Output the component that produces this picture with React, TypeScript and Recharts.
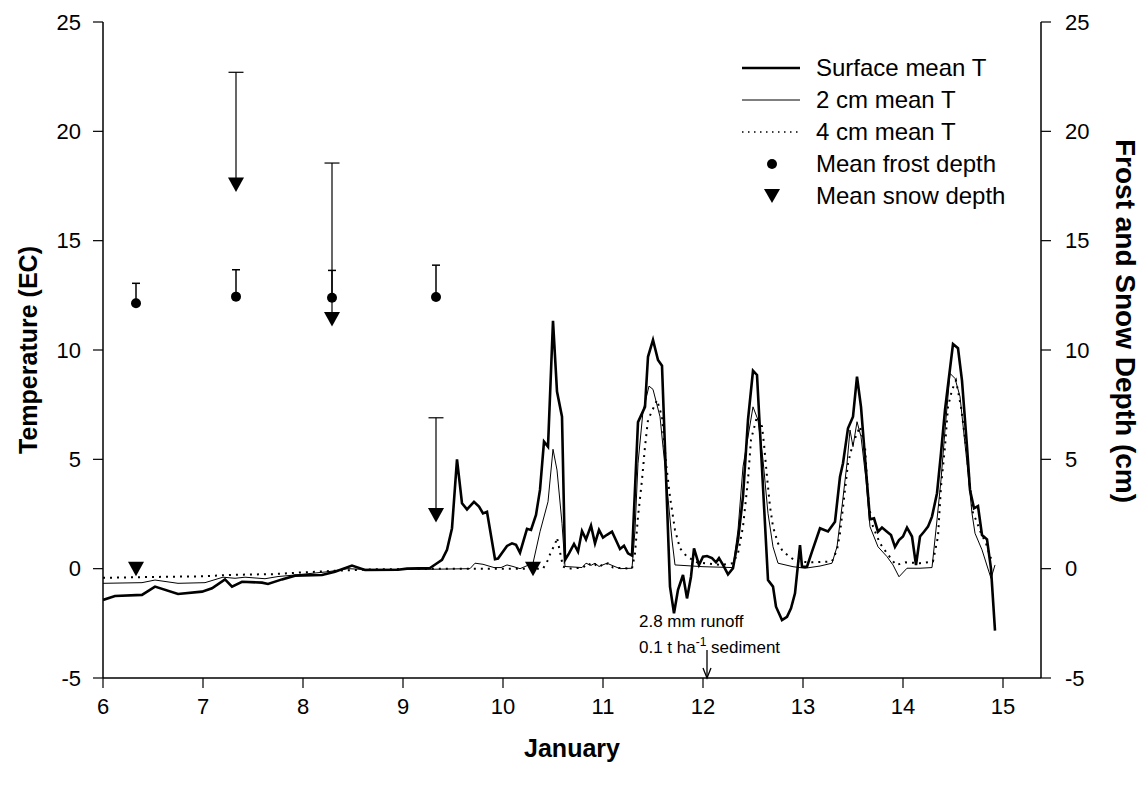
import React from 'react';
import { ComposedChart, Line, Scatter, ErrorBar, XAxis, YAxis, Legend, ReferenceDot } from 'recharts';

const FONT = '"Liberation Sans", Arial, Helvetica, sans-serif';

// [day of January, °C] at each vertex of the hourly traces
const surfaceTrace: [number, number][] = [
  [6.0, -1.43], [6.12, -1.25], [6.39, -1.2], [6.52, -0.82], [6.75, -1.16], [6.99, -1.05], [7.09, -0.9],
  [7.22, -0.49], [7.29, -0.82], [7.39, -0.6], [7.59, -0.64], [7.65, -0.7], [7.79, -0.49], [7.92, -0.32],
  [8.19, -0.29], [8.32, -0.14], [8.49, 0.14], [8.62, -0.06], [8.95, -0.05], [9.04, 0.0], [9.27, 0.03],
  [9.34, 0.25], [9.39, 0.4], [9.44, 0.86], [9.49, 1.85], [9.54, 5.0], [9.59, 2.99], [9.64, 2.71],
  [9.71, 3.06], [9.76, 2.84], [9.8, 2.53], [9.84, 2.6], [9.92, 0.43], [9.95, 0.46], [10.04, 1.04],
  [10.09, 1.16], [10.13, 1.09], [10.17, 0.73], [10.24, 1.82], [10.28, 1.77], [10.33, 2.46], [10.37, 3.6],
  [10.41, 5.81], [10.45, 5.58], [10.5, 11.34], [10.54, 8.1], [10.59, 6.95], [10.62, 0.4], [10.66, 0.7],
  [10.71, 1.13], [10.75, 0.78], [10.79, 1.72], [10.83, 1.34], [10.88, 1.97], [10.92, 1.16], [10.96, 1.77],
  [11.0, 1.42], [11.04, 1.55], [11.09, 1.69], [11.13, 1.3], [11.17, 0.9], [11.21, 1.05], [11.25, 0.7],
  [11.29, 0.6], [11.35, 6.7], [11.42, 7.4], [11.45, 9.69], [11.5, 10.46], [11.55, 9.54], [11.59, 9.28],
  [11.67, -0.82], [11.71, -2.04], [11.75, -0.97], [11.8, -0.29], [11.84, -1.36], [11.88, -0.37],
  [11.91, 0.93], [11.96, 0.17], [12.0, 0.55], [12.04, 0.58], [12.09, 0.48], [12.13, 0.29], [12.16, 0.48],
  [12.2, 0.17], [12.25, -0.26], [12.3, 0.02], [12.35, 1.31], [12.4, 3.29], [12.45, 6.8], [12.5, 9.05],
  [12.54, 8.86], [12.65, -0.52], [12.7, -0.82], [12.73, -1.74], [12.79, -2.35], [12.84, -2.2],
  [12.88, -1.81], [12.92, -1.13], [12.97, 1.08], [12.99, 0.09], [13.04, 0.09], [13.09, 0.78],
  [13.17, 1.85], [13.25, 1.7], [13.32, 2.15], [13.37, 4.2], [13.4, 4.82], [13.45, 6.42], [13.5, 6.95],
  [13.54, 8.78], [13.58, 7.4], [13.63, 4.51], [13.67, 2.26], [13.71, 2.3], [13.75, 1.69], [13.79, 1.88],
  [13.84, 1.69], [13.88, 1.54], [13.92, 1.0], [13.96, 1.31], [14.0, 1.47], [14.04, 1.88], [14.09, 1.47],
  [14.13, 0.17], [14.17, 1.47], [14.21, 1.69], [14.25, 1.92], [14.29, 2.38], [14.34, 3.45], [14.38, 5.28],
  [14.42, 7.26], [14.5, 10.27], [14.55, 10.08], [14.59, 8.6], [14.64, 5.58], [14.67, 3.6], [14.71, 2.76],
  [14.75, 2.86], [14.79, 1.54], [14.84, 1.34], [14.88, 0.0], [14.92, -2.83],
];

const twoCmTrace: [number, number][] = [
  [6.0, -0.67], [6.39, -0.64], [6.52, -0.52], [6.75, -0.67], [7.02, -0.64], [7.2, -0.39], [7.32, -0.44],
  [7.42, -0.39], [7.62, -0.46], [7.75, -0.36], [7.92, -0.29], [8.25, -0.14], [8.45, 0.0], [8.59, -0.03],
  [9.25, -0.03], [9.67, 0.0], [9.72, 0.25], [9.8, 0.2], [9.91, 0.05], [9.98, 0.05], [10.04, 0.17],
  [10.1, 0.1], [10.17, 0.0], [10.3, 0.25], [10.37, 1.69], [10.45, 3.06], [10.5, 5.46], [10.54, 4.51],
  [10.59, 2.07], [10.62, 0.1], [10.79, 0.05], [10.83, 0.25], [10.88, 0.15], [10.92, 0.25], [10.96, 0.1],
  [11.04, 0.25], [11.09, 0.15], [11.17, 0.0], [11.29, 0.02], [11.32, 1.77], [11.35, 4.82], [11.4, 7.2],
  [11.46, 8.35], [11.5, 8.2], [11.57, 6.95], [11.63, 4.2], [11.69, 1.31], [11.72, 0.17], [12.0, 0.09],
  [12.3, 0.05], [12.35, 1.77], [12.4, 4.66], [12.5, 7.4], [12.55, 6.8], [12.6, 4.97], [12.65, 2.53],
  [12.7, 1.0], [12.75, 0.25], [12.9, 0.09], [13.02, 0.02], [13.17, 0.12], [13.29, 0.25], [13.34, 1.0],
  [13.39, 2.84], [13.44, 4.82], [13.47, 6.34], [13.5, 5.58], [13.54, 6.72], [13.58, 6.04], [13.63, 4.06],
  [13.67, 1.92], [13.75, 1.0], [13.84, 0.55], [13.9, 0.17], [13.96, -0.37], [14.04, 0.02], [14.17, 0.02],
  [14.29, 0.05], [14.34, 2.23], [14.38, 4.06], [14.42, 6.34], [14.47, 8.93], [14.52, 8.7], [14.57, 7.87],
  [14.64, 4.82], [14.69, 2.53], [14.72, 1.62], [14.79, 0.86], [14.88, -0.44], [14.92, 0.17],
];

const fourCmTrace: [number, number][] = [
  [6.0, -0.42], [6.5, -0.38], [7.0, -0.35], [7.3, -0.28], [7.7, -0.25], [8.0, -0.17], [8.4, -0.08],
  [8.7, -0.03], [9.5, 0.0], [10.4, 0.0], [10.45, 0.4], [10.48, 0.78], [10.52, 1.1], [10.54, 1.42],
  [10.6, 0.1], [10.65, 0.0], [10.8, 0.05], [10.85, 0.25], [10.9, 0.1], [10.95, 0.25], [11.0, 0.1],
  [11.05, 0.25], [11.1, 0.05], [11.29, 0.0], [11.32, 0.7], [11.35, 2.38], [11.39, 4.06], [11.42, 5.58],
  [11.45, 6.8], [11.54, 7.71], [11.59, 6.95], [11.63, 4.82], [11.67, 3.29], [11.72, 1.77], [11.77, 0.93],
  [11.84, 0.55], [11.94, 0.29], [12.17, 0.17], [12.3, 0.25], [12.35, 0.7], [12.4, 1.92], [12.45, 4.06],
  [12.48, 5.9], [12.54, 6.95], [12.59, 6.5], [12.61, 5.7], [12.64, 4.2], [12.67, 2.84], [12.7, 1.92],
  [12.75, 1.16], [12.8, 0.78], [12.93, 0.33], [13.1, 0.29], [13.29, 0.33], [13.34, 0.86], [13.37, 1.62],
  [13.42, 3.6], [13.45, 4.82], [13.5, 5.74], [13.57, 6.5], [13.62, 5.58], [13.64, 4.06], [13.66, 2.84],
  [13.7, 1.92], [13.77, 1.16], [13.84, 0.7], [13.93, 0.17], [14.03, 0.29], [14.17, 0.25], [14.3, 0.33],
  [14.35, 1.47], [14.38, 3.75], [14.42, 5.58], [14.45, 7.4], [14.49, 8.17], [14.53, 8.6], [14.58, 7.4],
  [14.63, 5.6], [14.67, 3.75], [14.7, 2.53], [14.73, 2.23], [14.78, 1.62], [14.83, 1.16], [14.87, 0.55],
  [14.9, 0.33],
];

// field sampling days, depths in cm, one-sided error (cm)
const frostDays = [6.33, 7.33, 8.29, 9.33];
const frostDepth = [12.14, 12.44, 12.39, 12.42];
const frostErr = [0.91, 1.23, 1.25, 1.46];

const snowDays = [6.33, 7.33, 8.29, 9.33, 10.3];
const snowDepth = [0, 17.57, 11.42, 2.45, 0];
const snowErr = [0, 5.13, 7.13, 4.45, 0];

const dayTicks = [6, 7, 8, 9, 10, 11, 12, 13, 14, 15];
const valueTicks = [-5, 0, 5, 10, 15, 20, 25];
const legendLabels = ['Surface mean T', '2 cm mean T', '4 cm mean T', 'Mean frost depth', 'Mean snow depth'];

const runoffDay = 12.04;
const runoffLines = ['2.8 mm runoff', '0.1 t ha', '-1', ' sediment'];

const toRows = (trace: [number, number][]) => trace.map(([day, t]) => ({ day, t }));
const surfaceData = toRows(surfaceTrace);
const twoCmData = toRows(twoCmTrace);
const fourCmData = toRows(fourCmTrace);

const frostData = frostDays.map((day, i) => ({ day, depth: frostDepth[i], err: [0, frostErr[i]] }));
const snowData = snowDays.map((day, i) => ({ day, depth: snowDepth[i], err: [0, snowErr[i]] }));
const frostCaps = frostData.map((d, i) => ({ day: d.day, depth: d.depth + frostErr[i] }));
const snowCaps = snowData
  .map((d, i) => ({ day: d.day, depth: d.depth + snowErr[i], err: snowErr[i] }))
  .filter((d) => d.err > 0);

const tickStyle = { fill: '#000', fontSize: 22, fontFamily: FONT };
const axisLine = { stroke: '#000', strokeWidth: 1.5 };
const tickLine = { stroke: '#000', strokeWidth: 1.2 };
const titleStyle = { fontFamily: FONT, fontSize: 25, fontWeight: 700, fill: '#000' };

const Triangle = (props: any) => {
  const { cx, cy } = props;
  return <polygon points={`${cx - 8},${cy - 7} ${cx + 8},${cy - 7} ${cx},${cy + 7.5}`} fill="#000" />;
};

const Dot = (props: any) => <circle cx={props.cx} cy={props.cy} r={5} fill="#000" />;

const capShape = (half: number, w: number) => (props: any) =>
  <line x1={props.cx - half} x2={props.cx + half} y1={props.cy} y2={props.cy} stroke="#000" strokeWidth={w} />;

const leftTitle = ({ viewBox }: any) => {
  const cx = viewBox.x + 20;
  const cy = viewBox.y + viewBox.height / 2;
  return (
    <text x={cx} y={cy} transform={`rotate(-90 ${cx} ${cy})`} textAnchor="middle" dominantBaseline="central" style={titleStyle}>
      Temperature (EC)
    </text>
  );
};

// right title runs top-down, starting just under the 20 cm tick
const rightTitle = ({ viewBox }: any) => {
  const cx = viewBox.x + 84;
  const cy = viewBox.y + 117;
  return (
    <text x={cx} y={cy} transform={`rotate(90 ${cx} ${cy})`} textAnchor="start" dominantBaseline="central" style={{ ...titleStyle, fontSize: 28 }}>
      Frost and Snow Depth (cm)
    </text>
  );
};

const bottomTitle = ({ viewBox }: any) => (
  <text x={viewBox.x + viewBox.width / 2} y={viewBox.y + 70} textAnchor="middle" dominantBaseline="central" style={titleStyle}>
    January
  </text>
);

const runoffMarker = (props: any) => {
  const { cx, cy } = props;
  const txt = { fontFamily: FONT, fontSize: 17, fill: '#000' };
  return (
    <g>
      <line x1={cx} x2={cx} y1={cy - 28} y2={cy} stroke="#000" strokeWidth={1.3} />
      <polyline points={`${cx - 4},${cy - 10} ${cx},${cy} ${cx + 4},${cy - 10}`} fill="none" stroke="#000" strokeWidth={1.3} />
      <text x={cx - 68} y={cy - 51} style={txt}>{runoffLines[0]}</text>
      <text x={cx - 68} y={cy - 25} style={txt}>
        {runoffLines[1]}
        <tspan dy={-7} fontSize={12}>{runoffLines[2]}</tspan>
        <tspan dy={7}>{runoffLines[3]}</tspan>
      </text>
    </g>
  );
};

const legendSymbol = (i: number) => {
  if (i === 0) return <line x1={0} x2={58} y1={16} y2={16} stroke="#000" strokeWidth={2.5} />;
  if (i === 1) return <line x1={0} x2={58} y1={16} y2={16} stroke="#000" strokeWidth={1} />;
  if (i === 2) return <line x1={0} x2={58} y1={16} y2={16} stroke="#000" strokeWidth={1.5} strokeDasharray="1.5 4.5" />;
  if (i === 3) return <circle cx={30} cy={16} r={5} fill="#000" />;
  return <polygon points="22,9 38,9 30,23" fill="#000" />;
};

const LegendBox = () => (
  <div style={{ fontFamily: FONT, fontSize: 24, color: '#000', lineHeight: '32px' }}>
    {legendLabels.map((label, i) => (
      <div key={label} style={{ display: 'flex', alignItems: 'center', height: 32 }}>
        <svg width={60} height={32}>{legendSymbol(i)}</svg>
        <span style={{ marginLeft: 14, whiteSpace: 'nowrap' }}>{label}</span>
      </div>
    ))}
  </div>
);

export default function App() {
  return (
    <div style={{ width: 1140, height: 774, background: '#fff' }}>
      <ComposedChart width={1140} height={774} margin={{ top: 14, right: 0, bottom: 0, left: 0 }}>
        <XAxis
          dataKey="day"
          type="number"
          domain={[6, 15.38]}
          ticks={dayTicks}
          allowDataOverflow
          height={104}
          tickSize={10}
          tickMargin={10}
          tick={tickStyle}
          axisLine={axisLine}
          tickLine={tickLine}
          label={bottomTitle}
        />
        <XAxis
          xAxisId="top"
          orientation="top"
          type="number"
          domain={[6, 15.38]}
          height={0}
          tick={false}
          tickLine={false}
          axisLine={axisLine}
        />
        <YAxis
          yAxisId="temp"
          type="number"
          domain={[-5, 25]}
          ticks={valueTicks}
          allowDataOverflow
          width={95}
          tickSize={10}
          tickMargin={12}
          tick={tickStyle}
          axisLine={axisLine}
          tickLine={tickLine}
          label={leftTitle}
        />
        <YAxis
          yAxisId="depth"
          orientation="right"
          type="number"
          domain={[-5, 25]}
          ticks={valueTicks}
          allowDataOverflow
          width={107}
          tickSize={10}
          tickMargin={14}
          tick={tickStyle}
          axisLine={axisLine}
          tickLine={tickLine}
          label={rightTitle}
        />
        <Legend
          layout="horizontal"
          verticalAlign="middle"
          content={LegendBox}
          wrapperStyle={{ position: 'absolute', left: 734, top: 44, width: 330 }}
        />
        <Line data={fourCmData} yAxisId="temp" dataKey="t" type="linear" stroke="#000" strokeWidth={2} strokeDasharray="2 5" dot={false} activeDot={false} isAnimationActive={false} />
        <Line data={twoCmData} yAxisId="temp" dataKey="t" type="linear" stroke="#000" strokeWidth={1} dot={false} activeDot={false} isAnimationActive={false} />
        <Line data={surfaceData} yAxisId="temp" dataKey="t" type="linear" stroke="#000" strokeWidth={2.6} strokeLinejoin="miter" dot={false} activeDot={false} isAnimationActive={false} />
        <Scatter data={frostCaps} yAxisId="depth" dataKey="depth" shape={capShape(4, 1.5)} isAnimationActive={false} />
        <Scatter data={snowCaps} yAxisId="depth" dataKey="depth" shape={capShape(7.5, 1.2)} isAnimationActive={false} />
        <Scatter data={frostData} yAxisId="depth" dataKey="depth" shape={Dot} isAnimationActive={false}>
          <ErrorBar dataKey="err" direction="y" width={0} stroke="#000" strokeWidth={1.5} />
        </Scatter>
        <Scatter data={snowData} yAxisId="depth" dataKey="depth" shape={Triangle} isAnimationActive={false}>
          <ErrorBar dataKey="err" direction="y" width={0} stroke="#000" strokeWidth={1.2} />
        </Scatter>
        <ReferenceDot x={runoffDay} y={-5} yAxisId="temp" ifOverflow="visible" shape={runoffMarker} />
      </ComposedChart>
    </div>
  );
}
